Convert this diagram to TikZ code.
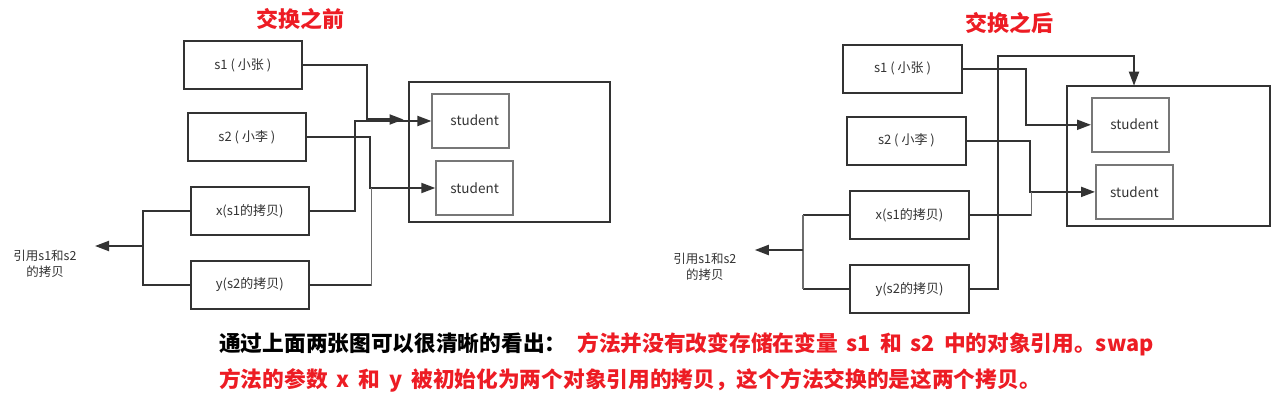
\documentclass[tikz,border=0pt]{standalone}
\usepackage{fontspec}
\setmainfont{Noto Sans CJK SC}
\usetikzlibrary{arrows.meta}
\definecolor{dk}{RGB}{51,51,51}
\definecolor{gr}{RGB}{119,119,119}
\definecolor{lg}{RGB}{110,110,110}
\definecolor{rd}{RGB}{237,28,36}
\newcommand\gapx{\hspace{9pt}}
\begin{document}
\begin{tikzpicture}[x=1pt,y=-1pt,
  box/.style={draw=dk,line width=2pt,minimum width=118.6pt,minimum height=48pt,inner sep=0pt,text=dk,font=\fontsize{13}{15}\selectfont},
  stu/.style={draw=gr,line width=2pt,minimum width=76.6pt,minimum height=54pt,inner sep=0pt,text=dk,font=\fontsize{13.5}{15}\selectfont},
  big/.style={draw=dk,line width=2pt,inner sep=0pt,minimum height=140pt},
  conn/.style={draw=dk,line width=2pt},
  thin/.style={draw=lg,line width=1.6pt},
  arr/.style={conn,-{Triangle[length=14pt,width=10pt]}},
  lbl/.style={align=center,text=dk,inner sep=0pt,font=\fontsize{12.5}{16}\selectfont},
  ttl/.style={text=rd,inner sep=0pt,font=\bfseries\fontsize{22}{26}\selectfont},
  note/.style={anchor=west,inner sep=0pt,font=\bfseries\fontsize{21.7}{26}\selectfont}]
\useasboundingbox (0,0) rectangle (1279,403);

% ---------- left: before ----------
\node[ttl] (Lt) at (300,19) {交换之前};
\node[box] (Ls1) at (242.8,65) {s1 ( 小张 )};
\node[box] (Ls2) at (246.9,137) {s2 ( 小李 )};
\node[box] (Lx) at (249.8,211) {x(s1的拷贝)};
\node[box] (Ly) at (249.8,285) {y(s2的拷贝)};
\node[big,minimum width=200.4pt] (Lbig) at (509.6,151.7) {};
\node[stu] (Lst1) at (470.7,120.9) {\raisebox{2pt}{\hspace{8pt}student}};
\node[stu] (Lst2) at (474.6,188) {student};
\node[lbl] (Llab) at (45,264) {引用s1和s2\\的拷贝};
\coordinate (Lbr1) at (143.4,211);
\coordinate (Lbr2) at (143.4,285);
\coordinate (Lbrm) at (143.4,246);
\coordinate (Lend1) at (403.5,119.5);
\coordinate (Lend0) at (95,246);

\draw[arr] (Ls1.east) -- (366.5,65) -- (366.5,119.5) -- (Lend1);
\draw[arr] (Lx.east) -- (354.5,211) -- (354.5,121) -- (Lst1.west |- 0,121);
\draw[arr] (Ls2.east) -- (370,137) -- (370,188) -- (Lst2.west);
\draw[conn] (Ly.east) -- (371.5,285);
\draw[thin] (371.5,286) -- (371.5,188);
\draw[conn] (Lx.west) -- (Lbr1) -- (Lbr2) -- (Ly.west);
\draw[arr] (Lbrm) -- (Lend0);

% ---------- right: after ----------
\node[ttl] (Rt) at (1009,23) {交换之后};
\node[box] (Rs1) at (902.5,68.7) {s1 ( 小张 )};
\node[box] (Rs2) at (906.4,140.7) {s2 ( 小李 )};
\node[box] (Rx) at (909.5,214.8) {x(s1的拷贝)};
\node[box] (Ry) at (909.5,289.1) {y(s2的拷贝)};
\node[big,minimum width=202.4pt,minimum height=140.3pt] (Rbig) at (1168.5,155.9) {};
\node[stu,minimum width=77pt] (Rst1) at (1130.5,124.8) {\raisebox{2pt}{\hspace{8pt}student}};
\node[stu,minimum width=76.8pt] (Rst2) at (1134.4,191.9) {student};
\node[lbl] (Rlab) at (704.8,267) {引用s1和s2\\的拷贝};
\coordinate (Rbr1) at (803,214.8);
\coordinate (Rbr2) at (803,289.1);
\coordinate (Rbrm) at (803,250);
\coordinate (Rend0) at (754.8,250);
\coordinate (Rtop) at (1134,85.7);

\draw[arr] (Rs1.east) -- (1025.5,68.7) -- (1025.5,124.8) -- (Rst1.west);
\draw[arr] (Rs2.east) -- (1030,140.7) -- (1030,191.9) -- (Rst2.west);
\draw[conn] (Rx.east) -- (1031.5,214.8);
\draw[thin] (1031.5,215.8) -- (1031.5,191.9);
\draw[arr] (Ry.east) -- (997.5,289.1) -- (997.5,56) -- (1134,56) -- (Rtop);
\draw[conn] (Rx.west) -- (Rbr1);
\draw[conn] (Ry.west) -- (Rbr2);
\draw[thin] (Rbr1) -- (Rbr2);
\draw[arr] (Rbrm) -- (Rend0);

% ---------- bottom note ----------
\node[note] (N1) at (219,344) {通过上面两张图可以很清晰的看出：\hspace{11pt}\textcolor{rd}{方法并没有改变存储在变量\gapx s1\gapx 和\gapx s2\gapx 中的对象引用。swap}};
\node[note,text=rd] (N2) at (219,380) {方法的参数\gapx x\gapx 和\gapx y\gapx 被初始化为两个对象引用的拷贝，这个方法交换的是这两个拷贝。};
\end{tikzpicture}
\end{document}
